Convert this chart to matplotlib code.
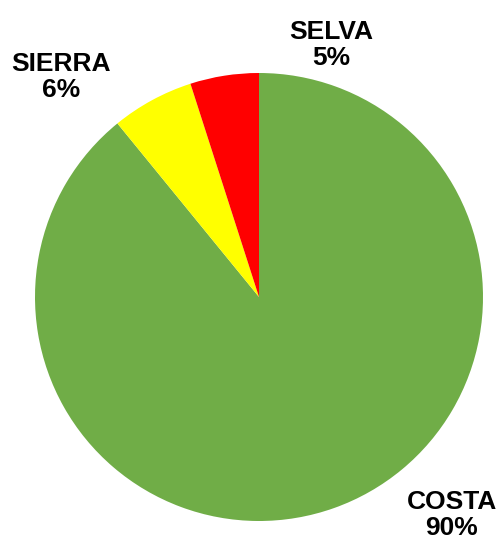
import matplotlib.pyplot as plt

regions = ["COSTA", "SIERRA", "SELVA"]
shares = [90, 6, 5]
colors = ["#70AD47", "#FFFF00", "#FF0000"]

plt.rcParams['font.family'] = ['Liberation Sans', 'DejaVu Sans']

W, H = 501, 543
fig = plt.figure(figsize=(W / 100, H / 100), dpi=100)

# pie centre and radius in pixels
cx, cy, r = 259, 297, 224
ax = fig.add_axes([(cx - r) / W, (H - cy - r) / H, 2 * r / W, 2 * r / H])

wedges, _ = ax.pie(shares, colors=colors, startangle=90, counterclock=False,
                   radius=1.0, wedgeprops=dict(linewidth=0))
ax.set_xlim(-1, 1)
ax.set_ylim(-1, 1)
ax.set_aspect('equal')
ax.axis('off')

# label anchors (pixel positions, converted to axes data units)
label_px = {"COSTA": (452, 515), "SIERRA": (61, 77), "SELVA": (331, 45)}
for name, val in zip(regions, shares):
    px, py = label_px[name]
    ax.text((px - cx) / r, (cy - py) / r, f"{name}\n{val}%",
            ha='center', va='center', fontsize=19, fontweight='bold',
            linespacing=1.12, color='black', clip_on=False)

fig.savefig("out.png", dpi=100)
